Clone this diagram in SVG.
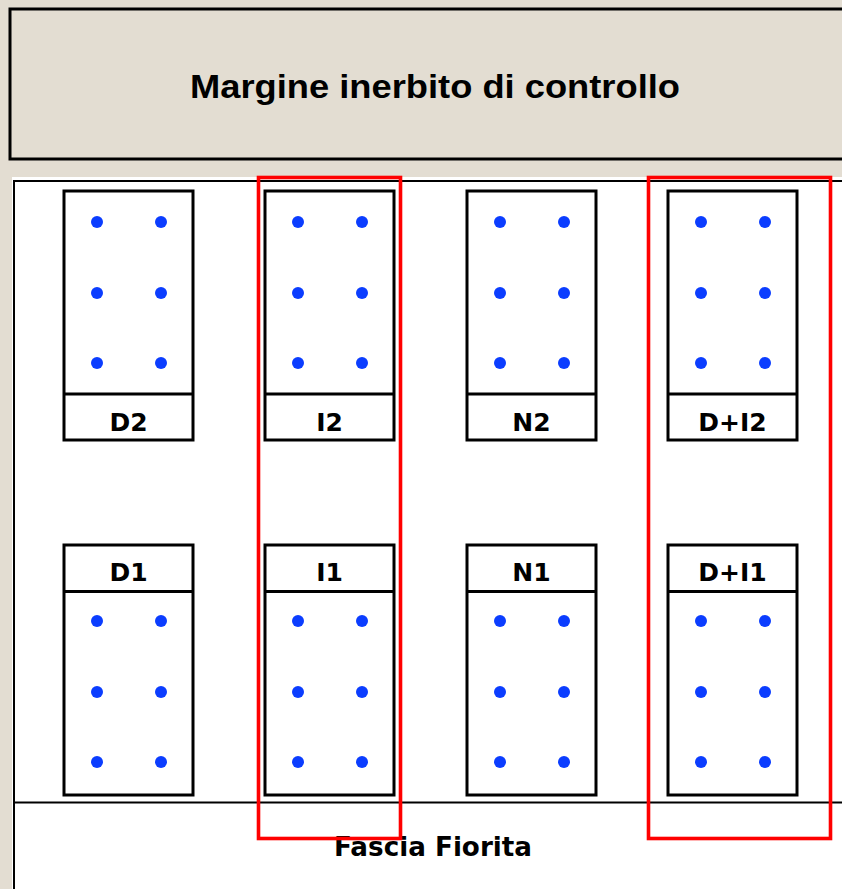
<svg xmlns="http://www.w3.org/2000/svg" width="842" height="889" viewBox="0 0 842 889">
  <style>
    .plot { fill: #ffffff; stroke: #000000; stroke-width: 3; }
    .div { stroke: #000000; stroke-width: 3; }
    .dot { fill: #0b3dff; }
    .lbl { font-family: "DejaVu Sans", "Liberation Sans", sans-serif; font-weight: bold; font-size: 25px; text-anchor: middle; fill: #000000; }
    .hl { fill: none; stroke: #ff0000; stroke-width: 3.6; }
  </style>
  <defs>
    <!-- 2 x 3 planting grid, relative to the plot's upper-left corner -->
    <g id="grid">
      <circle class="dot" cx="33" cy="0" r="6"/>
      <circle class="dot" cx="97" cy="0" r="6"/>
      <circle class="dot" cx="33" cy="71" r="6"/>
      <circle class="dot" cx="97" cy="71" r="6"/>
      <circle class="dot" cx="33" cy="141" r="6"/>
      <circle class="dot" cx="97" cy="141" r="6"/>
    </g>
  </defs>

  <!-- background -->
  <rect x="0" y="0" width="842" height="889" fill="#e3ddd2"/>

  <!-- grass control margin -->
  <g id="margine">
    <rect x="10" y="9" width="840" height="150" fill="#e3ddd2" stroke="#000000" stroke-width="3"/>
    <text x="435" y="98" font-family="Liberation Sans, Arial, sans-serif" font-weight="bold" font-size="34" text-anchor="middle" textLength="490" lengthAdjust="spacingAndGlyphs">Margine inerbito di controllo</text>
  </g>

  <!-- field area -->
  <g id="campo">
    <rect x="12" y="177" width="840" height="720" fill="#ffffff"/>
    <path d="M14 889 V181 H842" fill="none" stroke="#000000" stroke-width="2"/>
    <line x1="14" y1="802.5" x2="842" y2="802.5" stroke="#000000" stroke-width="2"/>
  </g>

  <!-- flower strip -->
  <g id="fascia">
    <text x="433" y="856" font-family="DejaVu Sans, sans-serif" font-weight="bold" font-size="26" text-anchor="middle" textLength="198" lengthAdjust="spacingAndGlyphs">Fascia Fiorita</text>
  </g>

  <!-- upper row of plots -->
  <g id="D2">
    <rect class="plot" x="64" y="191" width="129" height="249"/>
    <line class="div" x1="64" y1="394" x2="193" y2="394"/>
    <use href="#grid" x="64" y="222"/>
    <text class="lbl" x="128.5" y="431">D2</text>
  </g>
  <g id="I2">
    <rect class="plot" x="265" y="191" width="129" height="249"/>
    <line class="div" x1="265" y1="394" x2="394" y2="394"/>
    <use href="#grid" x="265" y="222"/>
    <text class="lbl" x="329.5" y="431">I2</text>
  </g>
  <g id="N2">
    <rect class="plot" x="467" y="191" width="129" height="249"/>
    <line class="div" x1="467" y1="394" x2="596" y2="394"/>
    <use href="#grid" x="467" y="222"/>
    <text class="lbl" x="531.5" y="431">N2</text>
  </g>
  <g id="DI2">
    <rect class="plot" x="668" y="191" width="129" height="249"/>
    <line class="div" x1="668" y1="394" x2="797" y2="394"/>
    <use href="#grid" x="668" y="222"/>
    <text class="lbl" x="732.5" y="431">D+I2</text>
  </g>

  <!-- lower row of plots -->
  <g id="D1">
    <rect class="plot" x="64" y="545" width="129" height="250"/>
    <line class="div" x1="64" y1="591.5" x2="193" y2="591.5"/>
    <use href="#grid" x="64" y="621"/>
    <text class="lbl" x="128.5" y="581">D1</text>
  </g>
  <g id="I1">
    <rect class="plot" x="265" y="545" width="129" height="250"/>
    <line class="div" x1="265" y1="591.5" x2="394" y2="591.5"/>
    <use href="#grid" x="265" y="621"/>
    <text class="lbl" x="329.5" y="581">I1</text>
  </g>
  <g id="N1">
    <rect class="plot" x="467" y="545" width="129" height="250"/>
    <line class="div" x1="467" y1="591.5" x2="596" y2="591.5"/>
    <use href="#grid" x="467" y="621"/>
    <text class="lbl" x="531.5" y="581">N1</text>
  </g>
  <g id="DI1">
    <rect class="plot" x="668" y="545" width="129" height="250"/>
    <line class="div" x1="668" y1="591.5" x2="797" y2="591.5"/>
    <use href="#grid" x="668" y="621"/>
    <text class="lbl" x="732.5" y="581">D+I1</text>
  </g>

  <!-- highlighted columns -->
  <g id="evidenziati">
    <rect class="hl" x="258.5" y="177.5" width="142" height="661"/>
    <rect class="hl" x="648.5" y="177.5" width="182" height="661"/>
  </g>
</svg>
